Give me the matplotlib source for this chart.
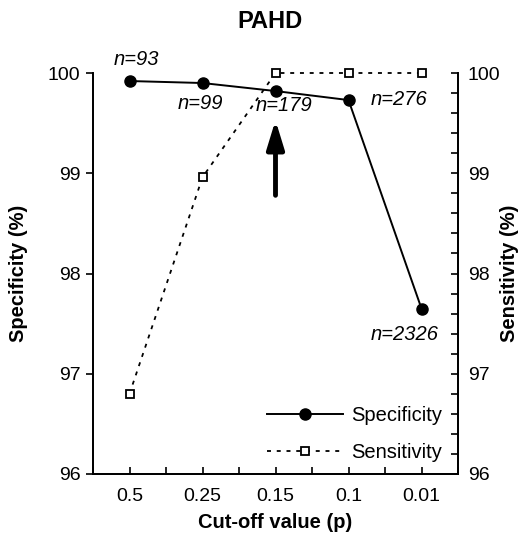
import matplotlib
matplotlib.use("Agg")
import matplotlib.pyplot as plt
from matplotlib.ticker import MultipleLocator

plt.rcParams["font.family"] = ["Liberation Sans", "DejaVu Sans"]

cutoffs = ["0.5", "0.25", "0.15", "0.1", "0.01"]
specificity = [99.92, 99.90, 99.82, 99.73, 97.65]
sensitivity = [96.80, 98.96, 100.0, 100.0, 100.0]
n_labels = ["n=93", "n=99", "n=179", "n=276", "n=2326"]
label_offsets = [(7, 22), (-2, -20), (9, -14), (51, 1), (-17, -26)]

fig = plt.figure(figsize=(5.21, 5.35), dpi=100)
ax = fig.add_axes([93 / 521, 1 - 474 / 535, 365 / 521, 401 / 535])
ax2 = ax.twinx()

x = list(range(len(cutoffs)))
ax.plot(x, specificity, "-", color="black", lw=1.4, marker="o", ms=8,
        mfc="black", mec="black", label="Specificity", clip_on=False, zorder=3)
ax.plot(x, sensitivity, color="black", lw=1.3, ls=(0, (2.2, 3.2)), marker="s", ms=6,
        mfc="white", mec="black", mew=1.3, label="Sensitivity", clip_on=False, zorder=3)

for xi, yi, txt, off in zip(x, specificity, n_labels, label_offsets):
    ax.annotate(txt, (xi, yi), xytext=off, textcoords="offset pixels",
                ha="center", va="center", fontsize=14.5, style="italic")

ax.annotate("", xy=(2, 99.53), xytext=(2, 98.78),
            arrowprops=dict(arrowstyle="-|>,head_length=0.85,head_width=0.26",
                            mutation_scale=20, color="black", lw=3.5,
                            shrinkA=0, shrinkB=0))

ax.set_xlim(-0.5, 4.5)
ax.set_ylim(96, 100)
ax2.set_ylim(96, 100)
ax.set_xticks(x)
ax.set_xticklabels(cutoffs)
ax.xaxis.set_minor_locator(MultipleLocator(0.5))
ax.tick_params(axis="x", which="both", direction="in", length=5, width=1.2,
               labelsize=14, pad=10)
ax.set_yticks([96, 97, 98, 99, 100])
ax.tick_params(axis="y", direction="out", length=5, width=1.2, labelsize=14, pad=4)
ax2.set_yticks([96, 97, 98, 99, 100])
ax2.yaxis.set_minor_locator(MultipleLocator(0.2))
ax2.tick_params(axis="y", which="both", direction="in", length=5, width=1.2,
                labelsize=14, pad=7)

for a in (ax, ax2):
    a.spines["top"].set_visible(False)
    for s in ("left", "right", "bottom"):
        a.spines[s].set_linewidth(1.3)

ax.set_xlabel("Cut-off value (p)", fontsize=14.5, fontweight="bold", labelpad=6)
ax.set_ylabel("Specificity (%)", fontsize=14.5, fontweight="bold", labelpad=14)
ax2.set_ylabel("Sensitivity (%)", fontsize=14.5, fontweight="bold", labelpad=0)
fig.suptitle("PAHD", x=270 / 521, y=1 - 10 / 535, va="top",
             fontsize=17, fontweight="bold")

ax.legend(loc="lower right", bbox_to_anchor=(0.99, 0.0), frameon=False, fontsize=14.5,
          handlelength=3.8, handletextpad=0.4, labelspacing=0.9, borderaxespad=0.2)

fig.savefig("out.png", dpi=100)
